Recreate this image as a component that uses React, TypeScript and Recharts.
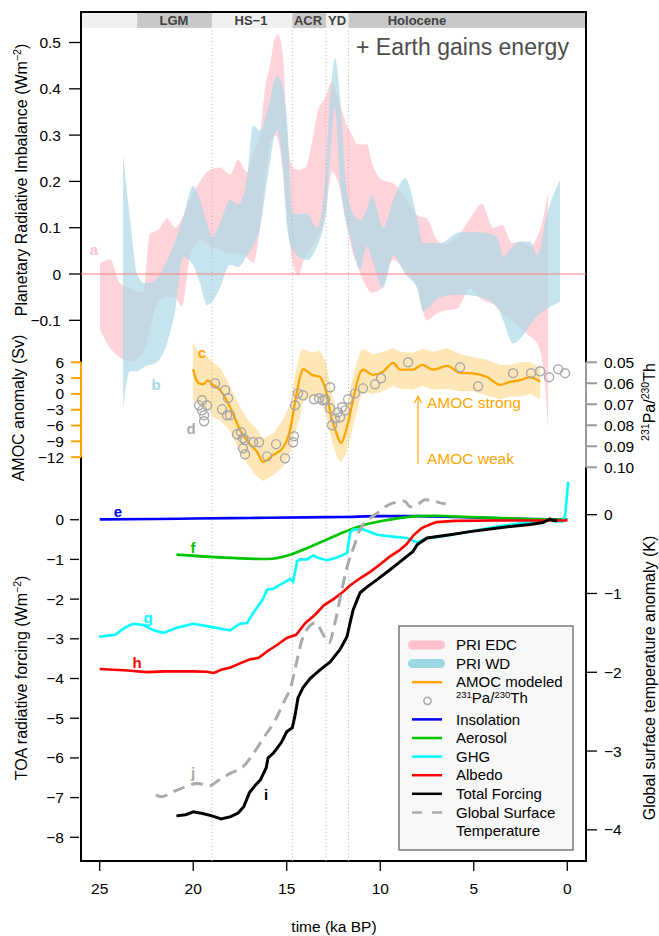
import React from 'react';
import {
  Area,
  ComposedChart,
  Line,
  ReferenceArea,
  ReferenceLine,
  Scatter,
  XAxis,
  YAxis,
} from 'recharts';

const FONT = '"Liberation Sans", Arial, Helvetica, sans-serif';
const W = 659;
const H = 936;

// PRI EDC band (W m-2), time in ka BP
const edcTime = [24.98, 24.45, 23.91, 23.38, 22.68, 22.31, 21.88, 21.4, 20.97, 20.6, 20.17, 19.64, 19.1, 18.57, 18.03, 17.6, 17.12, 16.8, 16.43, 16.16, 15.9, 15.63, 15.47, 15.2, 14.98, 14.66, 14.4, 14.0, 13.62, 13.35, 12.95, 12.58, 12.26, 11.77, 11.5, 11.24, 10.71, 10.44, 9.9, 9.31, 8.57, 8.03, 7.5, 6.96, 6.64, 5.89, 5.2, 4.56, 3.97, 3.49, 2.95, 2.42, 1.99, 1.61, 1.29, 1.03];
const edcHigh = [0.024, 0.032, -0.02, -0.03, -0.04, 0.088, 0.095, 0.12, 0.1, 0.12, 0.16, 0.2, 0.225, 0.23, 0.215, 0.246, 0.22, 0.26, 0.3, 0.4, 0.45, 0.51, 0.518, 0.47, 0.3, 0.23, 0.225, 0.23, 0.29, 0.35, 0.38, 0.416, 0.38, 0.32, 0.3, 0.28, 0.28, 0.24, 0.203, 0.196, 0.16, 0.127, 0.12, 0.073, 0.065, 0.08, 0.12, 0.151, 0.1, 0.106, 0.067, 0.07, 0.06, 0.08, 0.12, 0.175];
const edcLow = [-0.12, -0.16, -0.18, -0.19, -0.17, -0.12, -0.06, -0.05, -0.05, -0.07, 0.037, 0.073, 0.06, 0.052, 0.045, 0.045, 0.035, 0.024, 0.1, 0.2, 0.28, 0.3, 0.29, 0.22, 0.12, 0.02, -0.003, 0.04, 0.06, 0.08, 0.12, 0.22, 0.2, 0.1, 0.05, 0.02, -0.03, -0.04, -0.03, 0.03, 0.0, -0.03, -0.1, -0.085, -0.08, -0.075, -0.03, -0.056, -0.065, -0.085, -0.1, -0.12, -0.135, -0.15, -0.2, -0.33];

// PRI WD band
const wdTime = [23.75, 23.38, 23.0, 22.58, 21.94, 21.4, 20.97, 20.55, 20.01, 19.64, 19.26, 19.0, 18.57, 18.03, 17.6, 17.12, 16.8, 16.43, 16.05, 15.52, 15.25, 14.98, 14.66, 13.91, 13.38, 12.95, 12.68, 12.42, 12.15, 11.88, 11.61, 11.08, 10.71, 10.44, 9.85, 9.31, 8.67, 8.03, 7.71, 6.8, 5.73, 4.66, 3.75, 3.43, 2.9, 2.52, 1.99, 1.61, 1.08, 0.39];
const wdHigh = [0.26, 0.12, 0.0, -0.02, -0.01, 0.03, 0.07, 0.12, 0.19, 0.16, 0.11, 0.08, 0.11, 0.16, 0.15, 0.21, 0.32, 0.31, 0.35, 0.428, 0.41, 0.33, 0.13, 0.13, 0.1, 0.2, 0.38, 0.466, 0.38, 0.22, 0.145, 0.117, 0.14, 0.17, 0.1, 0.16, 0.207, 0.123, 0.067, 0.067, 0.09, 0.09, 0.08, 0.037, 0.06, 0.07, 0.07, 0.04, 0.13, 0.203];
const wdLow = [-0.29, -0.21, -0.21, -0.2, -0.19, -0.15, -0.08, 0.037, 0.02, -0.02, -0.067, -0.06, -0.03, 0.02, 0.015, 0.04, 0.06, 0.1, 0.2, 0.31, 0.25, 0.1, 0.05, 0.03, 0.06, 0.12, 0.25, 0.358, 0.2, 0.12, 0.08, 0.01, 0.06, 0.03, -0.03, 0.04, 0.0, -0.03, -0.08, -0.05, -0.045, -0.05, -0.07, -0.1, -0.15, -0.14, -0.11, -0.09, -0.075, -0.06];

// AMOC modeled (Sv) with its envelope
const amocTime = [20.01, 19.74, 19.48, 19.21, 18.94, 18.57, 18.03, 17.5, 17.07, 16.59, 16.27, 15.73, 15.2, 14.82, 14.56, 14.29, 14.13, 13.65, 13.22, 12.9, 12.58, 12.31, 12.1, 11.78, 11.45, 11.08, 10.92, 10.39, 9.85, 9.31, 8.94, 8.25, 7.76, 7.18, 6.43, 5.73, 5.04, 4.29, 3.59, 3.06, 2.52, 1.99, 1.45];
const amocValue = [4.7, 2.1, 1.8, 2.5, 1.7, 0.8, -2.5, -6.8, -9.1, -11, -12.9, -11.6, -10.2, -6.8, -1.7, 3.2, 4.7, 3.6, 3.2, 0.5, -4.9, -7.8, -9.3, -6.3, -1.1, 4.0, 4.6, 3.6, 4.2, 5.9, 4.6, 4.6, 5.5, 4.6, 5.3, 4.0, 3.9, 3.2, 1.7, 2.3, 2.6, 3.2, 2.3];
const amocLow = [-1.1, -2.0, -2.8, -2.5, -4.4, -5.0, -7.0, -11, -13.5, -15.7, -16.5, -15.5, -13.8, -11.0, -7.5, -4.4, -1.5, -0.5, -1.0, -4.0, -9.0, -12.0, -13.0, -11.0, -6.0, -1.0, 0.5, 0.0, 0.5, 1.5, 1.0, 0.8, 1.5, 0.8, 1.0, 0.5, 0.5, -0.3, -1.0, -0.5, -0.5, 0.0, -1.0];
const amocHigh = [9.7, 8.0, 7.5, 7.0, 5.9, 5.0, 1.5, -2.5, -5.0, -6.8, -8.5, -7.5, -4.9, -2.0, 3.5, 7.8, 8.5, 7.8, 8.2, 6.0, 0.0, -3.6, -5.0, -2.0, 3.5, 8.0, 8.5, 7.5, 8.0, 8.7, 8.0, 7.8, 8.5, 8.0, 8.7, 7.5, 7.0, 6.5, 5.5, 5.5, 6.0, 6.0, 5.0];

// 231Pa/230Th measurements
const paTime = [19.53, 19.69, 19.53, 19.26, 19.42, 19.42, 18.83, 18.3, 18.14, 18.46, 18.19, 18.03, 17.66, 17.44, 17.34, 17.23, 17.34, 17.23, 16.8, 16.48, 16.05, 15.57, 15.09, 14.66, 14.61, 14.56, 14.4, 14.13, 13.54, 13.27, 13.06, 12.95, 12.68, 12.68, 12.58, 12.42, 12.26, 12.15, 12.04, 11.88, 11.72, 11.35, 10.92, 10.28, 9.96, 8.51, 5.73, 4.77, 2.9, 1.94, 1.45, 0.97, 0.49, 0.12];
const paValue = [0.0681, 0.0705, 0.0729, 0.0705, 0.0752, 0.0781, 0.06, 0.0633, 0.0671, 0.0724, 0.0752, 0.0752, 0.0843, 0.0833, 0.0862, 0.0871, 0.091, 0.0938, 0.0881, 0.0881, 0.0948, 0.089, 0.0957, 0.0881, 0.0852, 0.0705, 0.0648, 0.0657, 0.0676, 0.0671, 0.0681, 0.0676, 0.0619, 0.0719, 0.08, 0.0767, 0.0738, 0.0762, 0.0714, 0.0729, 0.0676, 0.0648, 0.0624, 0.0605, 0.0576, 0.05, 0.0524, 0.0614, 0.0552, 0.0552, 0.0543, 0.0571, 0.0533, 0.0552];

// TOA forcings (W m-2)
const insolTime = [25, 22, 20, 18, 16, 14, 12, 10, 8, 6, 4, 2, 0];
const insolValue = [0.01, 0.02, 0.03, 0.04, 0.05, 0.06, 0.07, 0.09, 0.09, 0.07, 0.04, 0.02, 0.0];
const aerTime = [20.9, 16.05, 13.0, 12.0, 11.0, 10.0, 9.0, 8.0, 7.0, 6.0, 4.0, 2.0, 0.0];
const aerValue = [-0.88, -0.99, -0.53, -0.32, -0.15, -0.04, 0.04, 0.09, 0.1, 0.08, 0.05, 0.02, 0.0];
const ghgTime = [25.04, 24.18, 23.65, 23.22, 22.68, 22.15, 21.61, 20.87, 20.01, 19.26, 18.57, 18.03, 17.5, 17.12, 16.8, 16.27, 16.05, 15.73, 15.2, 14.82, 14.66, 14.45, 14.29, 13.91, 13.59, 13.22, 12.84, 12.31, 11.78, 11.61, 11.45, 10.92, 10.17, 9.48, 8.57, 8.03, 7.5, 6.96, 5.57, 3.75, 1.99, 0.92, 0.55, 0.28, 0.12, -0.05];
const ghgValue = [-2.95, -2.9, -2.72, -2.62, -2.65, -2.78, -2.85, -2.72, -2.62, -2.68, -2.74, -2.79, -2.62, -2.6, -2.35, -2.0, -1.76, -1.74, -1.6, -1.49, -1.56, -1.05, -1.0, -1.0, -0.9, -0.98, -1.02, -0.95, -0.84, -0.33, -0.25, -0.24, -0.38, -0.42, -0.46, -0.57, -0.46, -0.44, -0.33, -0.17, -0.06, -0.01, -0.04, -0.05, 0.1, 0.96];
const albTime = [25, 23.5, 22.5, 21.5, 20, 19.3, 18.9, 18.5, 18, 17.5, 17, 16.5, 16, 15.5, 15, 14.5, 14, 13.5, 13, 12.5, 12, 11.6, 11, 10.5, 10, 9.5, 9, 8.6, 8.2, 7.8, 7.5, 7, 6, 4, 2, 0];
const albValue = [-3.76, -3.8, -3.84, -3.82, -3.82, -3.83, -3.86, -3.78, -3.72, -3.62, -3.52, -3.48, -3.3, -3.15, -2.98, -2.9, -2.6, -2.4, -2.15, -2.0, -1.82, -1.65, -1.45, -1.3, -1.12, -0.93, -0.78, -0.62, -0.38, -0.22, -0.15, -0.06, -0.03, -0.02, -0.02, -0.02];
const totTime = [20.9, 20.4, 20.0, 19.5, 19.0, 18.5, 18.0, 17.6, 17.3, 17.0, 16.7, 16.4, 16.1, 16.0, 15.7, 15.3, 15.0, 14.7, 14.55, 14.4, 14.13, 13.75, 13.22, 12.68, 12.15, 11.78, 11.61, 11.45, 11.08, 10.7, 10.17, 9.48, 8.78, 8.25, 8.03, 7.5, 6.27, 5.2, 3.6, 1.99, 1.29, 0.92, 0.76, 0.55];
const totValue = [-7.46, -7.43, -7.36, -7.4, -7.46, -7.54, -7.48, -7.39, -7.23, -6.88, -6.7, -6.55, -6.25, -6.0, -5.87, -5.62, -5.34, -5.24, -4.91, -4.49, -4.23, -4.0, -3.78, -3.58, -3.27, -2.95, -2.59, -2.27, -1.84, -1.69, -1.51, -1.26, -1.0, -0.8, -0.63, -0.46, -0.38, -0.3, -0.2, -0.12, -0.07, 0.02, -0.02, -0.03];

// global surface temperature anomaly (K)
const tempTime = [22.0, 21.7, 21.2, 20.5, 19.8, 19.1, 18.7, 18.0, 17.3, 16.9, 16.2, 15.6, 15.1, 14.8, 14.5, 14.2, 13.8, 13.45, 13.1, 12.75, 12.4, 12.05, 11.7, 11.4, 11.1, 10.75, 10.45, 10.1, 9.6, 9.1, 8.7, 8.4, 8.0, 7.6, 7.2, 6.8, 6.5];
const tempValue = [-3.56, -3.58, -3.53, -3.46, -3.41, -3.44, -3.38, -3.28, -3.19, -3.07, -2.82, -2.6, -2.35, -2.2, -1.9, -1.6, -1.42, -1.37, -1.5, -1.63, -1.35, -0.95, -0.6, -0.4, -0.2, -0.08, -0.03, 0.03, 0.12, 0.16, 0.17, 0.1, 0.13, 0.19, 0.18, 0.15, 0.14];

// ticks
const timeTicks = [25, 20, 15, 10, 5, 0];
const priTicks = [-0.1, 0, 0.1, 0.2, 0.3, 0.4, 0.5];
const amocTicks = [-12, -9, -6, -3, 0, 3, 6];
const toaTicks = [-8, -7, -6, -5, -4, -3, -2, -1, 0];
const paTicks = [0.05, 0.06, 0.07, 0.08, 0.09, 0.1];
const tempTicks = [-4, -3, -2, -1, 0];

// periods along the top strip
const periodStart = [26, 23, 19, 14.7, 12.9, 11.7];
const periodEnd = [23, 19, 14.7, 12.9, 11.7, -1];
const periodBoundaries = [19, 14.7, 12.9, 11.7];

// axis domains chosen so the stacked panels line up in one plot box
const TIME_DOMAIN = [-1, 26];
const PRI_DOMAIN = [-1.2678, 0.5659];
const STRIP_BOTTOM = 0.5313;
const AMOC_DOMAIN = [-88.6, 72.44];
const TOA_DOMAIN = [-8.597, 12.79];
const PA_DOMAIN = [-0.1168, 0.2875];
const TEMP_DOMAIN = [-4.395, 6.379];

const band = (time: number[], lo: number[], hi: number[]) =>
  time.map((t, i) => ({ t, r: [lo[i], hi[i]] }));
const series = (time: number[], v: number[]) => time.map((t, i) => ({ t, v: v[i] }));

const edcData = band(edcTime, edcLow, edcHigh);
const wdData = band(wdTime, wdLow, wdHigh);
const amocBand = band(amocTime, amocLow, amocHigh);
const amocLine = series(amocTime, amocValue);
const paData = paTime.map((t, i) => ({ t, p: paValue[i] }));
const insolData = series(insolTime, insolValue);
const aerData = series(aerTime, aerValue);
const ghgData = series(ghgTime, ghgValue);
const albData = series(albTime, albValue);
const totData = series(totTime, totValue);
const tempData = series(tempTime, tempValue);

const minus = (v: number) => String(v).replace('-', '\u2212');
const tickFont = { fontSize: 15.5, fill: '#000', fontFamily: FONT };

const ring = (p: any) => (
  <circle cx={p.cx} cy={p.cy} r={4.5} fill="none" stroke="#A8A8A8" strokeWidth={1.4} />
);

const legendRows = [
  { label: 'PRI EDC', kind: 'band', color: '#FFC0CB' },
  { label: 'PRI WD', kind: 'band', color: '#9CD8E4' },
  { label: 'AMOC modeled', kind: 'line', color: '#FFA500' },
  { label: 'PaTh', kind: 'circle', color: '#A8A8A8' },
  { label: 'Insolation', kind: 'line', color: '#0000FF' },
  { label: 'Aerosol', kind: 'line', color: '#00C400' },
  { label: 'GHG', kind: 'line', color: '#00FFFF' },
  { label: 'Albedo', kind: 'line', color: '#FF0000' },
  { label: 'Total Forcing', kind: 'line', color: '#000000' },
  { label: 'Global Surface', kind: 'dash', color: '#AAAAAA' },
];

function Sup({ children, size = 10.5, rise = 6 }: { children: React.ReactNode; size?: number; rise?: number }) {
  return (
    <tspan dy={-rise} fontSize={size}>
      {children}
    </tspan>
  );
}

function PaTh({ size = 10.5, rise = 6 }: { size?: number; rise?: number }) {
  return (
    <>
      <Sup size={size} rise={rise}>231</Sup>
      <tspan dy={rise}>Pa/</tspan>
      <Sup size={size} rise={rise}>230</Sup>
      <tspan dy={rise}>Th</tspan>
    </>
  );
}

function Overlay() {
  const letters = [
    { s: 'a', x: 94, y: 250, c: '#FFC0CB' },
    { s: 'b', x: 156, y: 385, c: '#A6D8E4' },
    { s: 'c', x: 202, y: 353, c: '#FFA500' },
    { s: 'd', x: 191, y: 429, c: '#AAAAAA' },
    { s: 'e', x: 118, y: 512, c: '#0000FF' },
    { s: 'f', x: 193, y: 548, c: '#00C400' },
    { s: 'g', x: 148, y: 618, c: '#00FFFF' },
    { s: 'h', x: 137, y: 663, c: '#FF0000' },
    { s: 'i', x: 266, y: 795, c: '#000000' },
    { s: 'j', x: 193, y: 773, c: '#AAAAAA' },
  ];
  const periods = [
    { s: 'LGM', x: 174 },
    { s: 'HS\u22121', x: 251 },
    { s: 'ACR', x: 308 },
    { s: 'YD', x: 337 },
    { s: 'Holocene', x: 417 },
  ];
  const rowY = (i: number) => 645 + i * 18.6;
  return (
    <svg
      width={W}
      height={H}
      style={{ position: 'absolute', left: 0, top: 0, pointerEvents: 'none', fontFamily: FONT }}
    >
      {periods.map((p) => (
        <text key={p.s} x={p.x} y={20} dy="0.35em" textAnchor="middle" fontSize={13} fontWeight="bold" fill="#404040">
          {p.s}
        </text>
      ))}
      <text x={356} y={55} fontSize={23} fill="#4D4D4D">
        + Earth gains energy
      </text>

      {letters.map((l) => (
        <text key={l.s} x={l.x} y={l.y} dy="0.35em" textAnchor="middle" fontSize={15} fontWeight="bold" fill={l.c}>
          {l.s}
        </text>
      ))}

      {/* AMOC arrow */}
      <line x1={418} y1={464} x2={418} y2={396} stroke="#FFA500" strokeWidth={1.2} />
      <polyline points="414.5,403 418,396 421.5,403" fill="none" stroke="#FFA500" strokeWidth={1.2} />
      <text x={427} y={403} dy="0.35em" fontSize={15.5} fill="#FFA500">AMOC strong</text>
      <text x={427} y={459} dy="0.35em" fontSize={15.5} fill="#FFA500">AMOC weak</text>

      {/* axis titles */}
      <text transform="translate(27,180) rotate(-90)" textAnchor="middle" fontSize={16}>
        Planetary Radiative Imbalance (Wm<Sup>{'\u22122'}</Sup>
        <tspan dy={6}>)</tspan>
      </text>
      <text transform="translate(24,408) rotate(-90)" textAnchor="middle" fontSize={16}>
        AMOC anomaly (Sv)
      </text>
      <text transform="translate(27,678) rotate(-90)" textAnchor="middle" fontSize={16}>
        TOA radiative forcing (Wm<Sup>{'\u22122'}</Sup>
        <tspan dy={6}>)</tspan>
      </text>
      <text transform="translate(655,402) rotate(-90)" textAnchor="middle" fontSize={16}>
        <PaTh />
      </text>
      <text transform="translate(655,678) rotate(-90)" textAnchor="middle" fontSize={16}>
        Global surface temperature anomaly (K)
      </text>
      <text x={334} y={932} textAnchor="middle" fontSize={15.5}>
        time (ka BP)
      </text>

      {/* legend */}
      <rect x={399} y={626} width={174} height={224} fill="#F8F8F8" stroke="#666" strokeWidth={1.3} />
      {legendRows.map((r, i) => {
        const y = rowY(i);
        let sym: React.ReactNode = null;
        if (r.kind === 'band')
          sym = <line x1={412.5} x2={440.5} y1={y} y2={y} stroke={r.color} strokeWidth={9} strokeLinecap="round" />;
        else if (r.kind === 'line')
          sym = <line x1={412} x2={442} y1={y} y2={y} stroke={r.color} strokeWidth={2.5} />;
        else if (r.kind === 'circle')
          sym = <circle cx={427.5} cy={y} r={3.6} fill="none" stroke={r.color} strokeWidth={1.6} />;
        else
          sym = <line x1={412} x2={442} y1={y} y2={y} stroke={r.color} strokeWidth={2.5} strokeDasharray="10 10" />;
        return (
          <g key={r.label}>
            {sym}
            <text x={456} y={r.kind === 'circle' ? y + 2 : y} dy="0.35em" fontSize={15}>
              {r.kind === 'circle' ? <PaTh size={9.5} rise={5} /> : r.label}
            </text>
          </g>
        );
      })}
      <text x={456} y={rowY(10)} dy="0.35em" fontSize={15}>
        Temperature
      </text>
    </svg>
  );
}

export default function App() {
  return (
    <div style={{ position: 'absolute', left: 0, top: 0, width: W, height: H, background: '#fff' }}>
      <ComposedChart width={W} height={H} margin={{ top: 12, right: 71, bottom: 74, left: 78 }}>
        <XAxis
          dataKey="t"
          type="number"
          domain={TIME_DOMAIN}
          allowDataOverflow
          reversed
          ticks={timeTicks}
          interval={0}
          height={1}
          axisLine={false}
          tickSize={10}
          tickMargin={12}
          tick={tickFont}
          tickLine={{ stroke: '#000', strokeWidth: 1.3 }}
        />
        <YAxis
          yAxisId="pri"
          type="number"
          domain={PRI_DOMAIN}
          allowDataOverflow
          ticks={priTicks}
          interval={0}
          width={1}
          axisLine={false}
          tickSize={11}
          tickMargin={8}
          tick={tickFont}
          tickLine={{ stroke: '#000', strokeWidth: 1.3 }}
          tickFormatter={minus}
        />
        <YAxis
          yAxisId="amoc"
          type="number"
          domain={AMOC_DOMAIN}
          allowDataOverflow
          ticks={amocTicks}
          interval={0}
          width={1}
          axisLine={false}
          tickSize={10}
          tickMargin={7}
          tick={tickFont}
          tickLine={{ stroke: '#FFA500', strokeWidth: 2 }}
          tickFormatter={minus}
        />
        <YAxis
          yAxisId="toa"
          type="number"
          domain={TOA_DOMAIN}
          allowDataOverflow
          ticks={toaTicks}
          interval={0}
          width={1}
          axisLine={false}
          tickSize={9}
          tickMargin={6}
          tick={tickFont}
          tickLine={{ stroke: '#000', strokeWidth: 1.3 }}
          tickFormatter={minus}
        />
        <YAxis
          yAxisId="pa"
          dataKey="p"
          orientation="right"
          type="number"
          domain={PA_DOMAIN}
          allowDataOverflow
          reversed
          ticks={paTicks}
          interval={0}
          width={1}
          axisLine={false}
          tickSize={11}
          tickMargin={7}
          tick={tickFont}
          tickLine={{ stroke: '#999', strokeWidth: 2 }}
          tickFormatter={(v: number) => v.toFixed(2)}
        />
        <YAxis
          yAxisId="temp"
          orientation="right"
          type="number"
          domain={TEMP_DOMAIN}
          allowDataOverflow
          ticks={tempTicks}
          interval={0}
          width={1}
          axisLine={false}
          tickSize={10}
          tickMargin={7}
          tick={tickFont}
          tickLine={{ stroke: '#000', strokeWidth: 1.3 }}
          tickFormatter={minus}
        />

        {/* period strip */}
        {periodStart.map((s, i) => (
          <ReferenceArea
            key={'p' + i}
            yAxisId="pri"
            x1={s}
            x2={periodEnd[i]}
            y1={STRIP_BOTTOM}
            y2={PRI_DOMAIN[1]}
            fill={i % 2 === 1 || i === 5 ? '#C8C8C8' : '#F0F0F0'}
            fillOpacity={1}
            stroke="none"
            ifOverflow="hidden"
          />
        ))}
        {periodBoundaries.map((b) => (
          <ReferenceLine
            key={'b' + b}
            yAxisId="pri"
            segment={[
              { x: b, y: PRI_DOMAIN[0] },
              { x: b, y: STRIP_BOTTOM },
            ]}
            stroke="#B4B4B4"
            strokeDasharray="1 2.5"
            ifOverflow="hidden"
          />
        ))}
        <ReferenceLine yAxisId="pri" y={0} stroke="#FF7F7F" strokeWidth={1.2} />

        <Area data={edcData} dataKey="r" yAxisId="pri" type="monotone" fill="#FFC0CB" fillOpacity={0.7} stroke="none" isAnimationActive={false} />
        <Area data={wdData} dataKey="r" yAxisId="pri" type="monotone" fill="#ADD8E6" fillOpacity={0.7} stroke="none" isAnimationActive={false} />
        <Area data={amocBand} dataKey="r" yAxisId="amoc" type="linear" fill="#FFD98F" fillOpacity={0.65} stroke="none" isAnimationActive={false} />
        <Line data={amocLine} dataKey="v" yAxisId="amoc" type="monotone" stroke="#FFA500" strokeWidth={2.3} dot={false} isAnimationActive={false} />
        <Scatter data={paData} dataKey="p" yAxisId="pa" shape={ring} isAnimationActive={false} />

        <Line data={insolData} dataKey="v" yAxisId="toa" type="monotone" stroke="#0000FF" strokeWidth={2.6} dot={false} isAnimationActive={false} />
        <Line data={aerData} dataKey="v" yAxisId="toa" type="monotone" stroke="#00C400" strokeWidth={2.6} dot={false} isAnimationActive={false} />
        <Line data={ghgData} dataKey="v" yAxisId="toa" type="linear" stroke="#00FFFF" strokeWidth={2.6} dot={false} isAnimationActive={false} />
        <Line data={albData} dataKey="v" yAxisId="toa" type="linear" stroke="#FF0000" strokeWidth={2.6} dot={false} isAnimationActive={false} />
        <Line data={totData} dataKey="v" yAxisId="toa" type="linear" stroke="#000000" strokeWidth={3} dot={false} isAnimationActive={false} />
        <Line data={tempData} dataKey="v" yAxisId="temp" type="monotone" stroke="#AAAAAA" strokeWidth={3} strokeDasharray="12 7" dot={false} isAnimationActive={false} />

        {/* plot frame and coloured axis spans */}
        <ReferenceArea
          yAxisId="pri"
          x1={TIME_DOMAIN[1]}
          x2={TIME_DOMAIN[0]}
          y1={PRI_DOMAIN[0]}
          y2={PRI_DOMAIN[1]}
          fill="none"
          fillOpacity={0}
          stroke="#000"
          strokeWidth={2}
          ifOverflow="visible"
        />
        <ReferenceLine
          yAxisId="amoc"
          segment={[
            { x: TIME_DOMAIN[1], y: 6 },
            { x: TIME_DOMAIN[1], y: -12 },
          ]}
          stroke="#FFA500"
          strokeWidth={2}
          ifOverflow="visible"
        />
        <ReferenceLine
          yAxisId="pa"
          segment={[
            { x: TIME_DOMAIN[0], y: 0.05 },
            { x: TIME_DOMAIN[0], y: 0.1 },
          ]}
          stroke="#999"
          strokeWidth={2}
          ifOverflow="visible"
        />
      </ComposedChart>
      <Overlay />
    </div>
  );
}
